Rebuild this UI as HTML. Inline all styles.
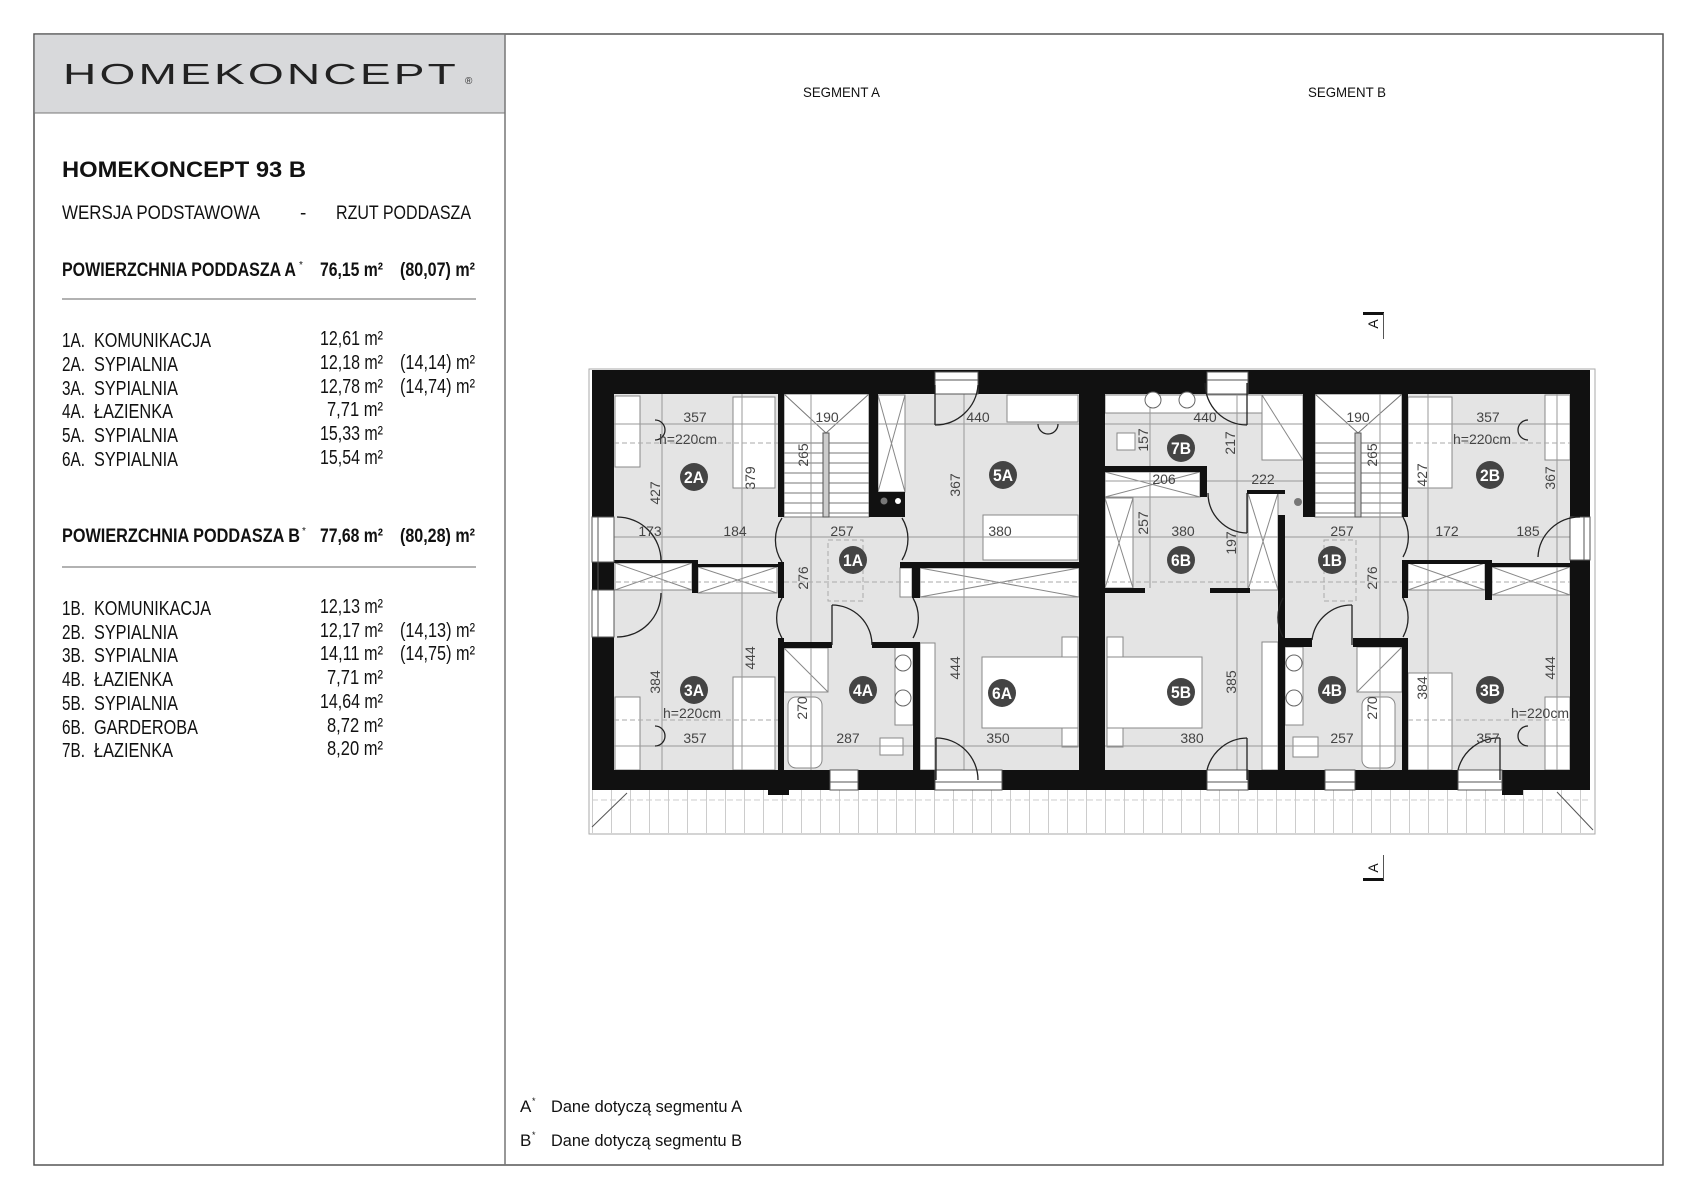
<!DOCTYPE html>
<html><head><meta charset="utf-8"><style>
html,body{margin:0;padding:0;background:#fff}
svg{display:block}
text{font-family:"Liberation Sans",Arial,sans-serif}
</style></head><body>
<svg width="1698" height="1200" viewBox="0 0 1698 1200" xmlns="http://www.w3.org/2000/svg">
<defs>
<pattern id="bal" x="592" y="0" width="19" height="50" patternUnits="userSpaceOnUse">
<line x1="0.5" y1="0" x2="0.5" y2="50" stroke="#ccc" stroke-width="1"/>
</pattern>
</defs>
<rect x="34" y="34" width="1629" height="1131" fill="#fff" stroke="#555" stroke-width="1.5"/>
<rect x="34.75" y="34.75" width="470" height="78" fill="#d8d9db"/>
<line x1="34" y1="113" x2="505" y2="113" stroke="#777" stroke-width="1"/>
<line x1="505" y1="34" x2="505" y2="1165" stroke="#777" stroke-width="1.5"/>
<text x="63" y="84" font-size="29" fill="#222" textLength="396" lengthAdjust="spacingAndGlyphs" letter-spacing="2">HOMEKONCEPT</text>
<text x="465" y="84" font-size="10" fill="#333">®</text>
<text x="62" y="177" font-size="22" font-weight="bold" fill="#111" textLength="244" lengthAdjust="spacingAndGlyphs">HOMEKONCEPT 93 B</text>
<text x="62" y="219" font-size="19" fill="#111" textLength="198" lengthAdjust="spacingAndGlyphs">WERSJA  PODSTAWOWA</text>
<text x="300" y="219" font-size="19" fill="#111">-</text>
<text x="336" y="219" font-size="19" fill="#111" textLength="135" lengthAdjust="spacingAndGlyphs">RZUT PODDASZA</text>
<text x="62" y="276" font-size="19" font-weight="bold" fill="#111" textLength="234" lengthAdjust="spacingAndGlyphs">POWIERZCHNIA PODDASZA  A</text>
<text x="299" y="268" font-size="10" fill="#111">*</text>
<text x="320" y="276" font-size="19" font-weight="bold" fill="#111" textLength="63" lengthAdjust="spacingAndGlyphs">76,15 m²</text>
<text x="400" y="276" font-size="19" font-weight="bold" fill="#111" textLength="75" lengthAdjust="spacingAndGlyphs">(80,07) m²</text>
<line x1="62" y1="299" x2="476" y2="299" stroke="#999" stroke-width="1.5"/>
<g font-size="20" fill="#111">
<text x="62" y="347" textLength="23" lengthAdjust="spacingAndGlyphs">1A.</text><text x="94" y="347" textLength="117" lengthAdjust="spacingAndGlyphs">KOMUNIKACJA</text><text x="320" y="345" textLength="63" lengthAdjust="spacingAndGlyphs">12,61 m²</text>
<text x="62" y="371" textLength="23" lengthAdjust="spacingAndGlyphs">2A.</text><text x="94" y="371" textLength="84" lengthAdjust="spacingAndGlyphs">SYPIALNIA</text><text x="320" y="369" textLength="63" lengthAdjust="spacingAndGlyphs">12,18 m²</text><text x="400" y="369" textLength="75" lengthAdjust="spacingAndGlyphs">(14,14) m²</text>
<text x="62" y="395" textLength="23" lengthAdjust="spacingAndGlyphs">3A.</text><text x="94" y="395" textLength="84" lengthAdjust="spacingAndGlyphs">SYPIALNIA</text><text x="320" y="393" textLength="63" lengthAdjust="spacingAndGlyphs">12,78 m²</text><text x="400" y="393" textLength="75" lengthAdjust="spacingAndGlyphs">(14,74) m²</text>
<text x="62" y="418" textLength="23" lengthAdjust="spacingAndGlyphs">4A.</text><text x="94" y="418" textLength="79" lengthAdjust="spacingAndGlyphs">ŁAZIENKA</text><text x="327" y="416" textLength="56" lengthAdjust="spacingAndGlyphs">7,71 m²</text>
<text x="62" y="442" textLength="23" lengthAdjust="spacingAndGlyphs">5A.</text><text x="94" y="442" textLength="84" lengthAdjust="spacingAndGlyphs">SYPIALNIA</text><text x="320" y="440" textLength="63" lengthAdjust="spacingAndGlyphs">15,33 m²</text>
<text x="62" y="466" textLength="23" lengthAdjust="spacingAndGlyphs">6A.</text><text x="94" y="466" textLength="84" lengthAdjust="spacingAndGlyphs">SYPIALNIA</text><text x="320" y="464" textLength="63" lengthAdjust="spacingAndGlyphs">15,54 m²</text>
</g>
<text x="62" y="542" font-size="19" font-weight="bold" fill="#111" textLength="238" lengthAdjust="spacingAndGlyphs">POWIERZCHNIA PODDASZA B</text>
<text x="302" y="534" font-size="10" fill="#111">*</text>
<text x="320" y="542" font-size="19" font-weight="bold" fill="#111" textLength="63" lengthAdjust="spacingAndGlyphs">77,68 m²</text>
<text x="400" y="542" font-size="19" font-weight="bold" fill="#111" textLength="75" lengthAdjust="spacingAndGlyphs">(80,28) m²</text>
<line x1="62" y1="567" x2="476" y2="567" stroke="#999" stroke-width="1.5"/>
<g font-size="20" fill="#111">
<text x="62" y="615" textLength="23" lengthAdjust="spacingAndGlyphs">1B.</text><text x="94" y="615" textLength="117" lengthAdjust="spacingAndGlyphs">KOMUNIKACJA</text><text x="320" y="613" textLength="63" lengthAdjust="spacingAndGlyphs">12,13 m²</text>
<text x="62" y="639" textLength="23" lengthAdjust="spacingAndGlyphs">2B.</text><text x="94" y="639" textLength="84" lengthAdjust="spacingAndGlyphs">SYPIALNIA</text><text x="320" y="637" textLength="63" lengthAdjust="spacingAndGlyphs">12,17 m²</text><text x="400" y="637" textLength="75" lengthAdjust="spacingAndGlyphs">(14,13) m²</text>
<text x="62" y="662" textLength="23" lengthAdjust="spacingAndGlyphs">3B.</text><text x="94" y="662" textLength="84" lengthAdjust="spacingAndGlyphs">SYPIALNIA</text><text x="320" y="660" textLength="63" lengthAdjust="spacingAndGlyphs">14,11 m²</text><text x="400" y="660" textLength="75" lengthAdjust="spacingAndGlyphs">(14,75) m²</text>
<text x="62" y="686" textLength="23" lengthAdjust="spacingAndGlyphs">4B.</text><text x="94" y="686" textLength="79" lengthAdjust="spacingAndGlyphs">ŁAZIENKA</text><text x="327" y="684" textLength="56" lengthAdjust="spacingAndGlyphs">7,71 m²</text>
<text x="62" y="710" textLength="23" lengthAdjust="spacingAndGlyphs">5B.</text><text x="94" y="710" textLength="84" lengthAdjust="spacingAndGlyphs">SYPIALNIA</text><text x="320" y="708" textLength="63" lengthAdjust="spacingAndGlyphs">14,64 m²</text>
<text x="62" y="734" textLength="23" lengthAdjust="spacingAndGlyphs">6B.</text><text x="94" y="734" textLength="104" lengthAdjust="spacingAndGlyphs">GARDEROBA</text><text x="327" y="732" textLength="56" lengthAdjust="spacingAndGlyphs">8,72 m²</text>
<text x="62" y="757" textLength="23" lengthAdjust="spacingAndGlyphs">7B.</text><text x="94" y="757" textLength="79" lengthAdjust="spacingAndGlyphs">ŁAZIENKA</text><text x="327" y="755" textLength="56" lengthAdjust="spacingAndGlyphs">8,20 m²</text>
</g>
<text x="803" y="97" font-size="14" fill="#111" textLength="77" lengthAdjust="spacingAndGlyphs">SEGMENT A</text>
<text x="1308" y="97" font-size="14" fill="#111" textLength="78" lengthAdjust="spacingAndGlyphs">SEGMENT B</text>
<rect x="1363" y="312" width="21" height="3" fill="#111"/>
<line x1="1383.5" y1="313" x2="1383.5" y2="339" stroke="#555"/>
<text x="0" y="0" font-size="14" fill="#111" transform="translate(1378,324) rotate(-90)" text-anchor="middle">A</text>
<rect x="1363" y="878" width="21" height="3" fill="#111"/>
<line x1="1383.5" y1="855" x2="1383.5" y2="880" stroke="#555"/>
<text x="0" y="0" font-size="14" fill="#111" transform="translate(1378,868) rotate(-90)" text-anchor="middle">A</text>
<text x="520" y="1112" font-size="17" fill="#111">A</text><text x="532" y="1104" font-size="9" fill="#111">*</text>
<text x="551" y="1112" font-size="17" fill="#111" textLength="191" lengthAdjust="spacingAndGlyphs">Dane dotyczą segmentu A</text>
<text x="520" y="1146" font-size="17" fill="#111">B</text><text x="532" y="1138" font-size="9" fill="#111">*</text>
<text x="551" y="1146" font-size="17" fill="#111" textLength="191" lengthAdjust="spacingAndGlyphs">Dane dotyczą segmentu B</text>

<rect x="589" y="369" width="1006" height="465" fill="#fff" stroke="#aaa" stroke-width="1"/>
<rect x="592" y="790" width="998" height="43" fill="url(#bal)"/>
<line x1="592" y1="800" x2="1590" y2="800" stroke="#ccc" stroke-dasharray="6,3"/>
<line x1="592" y1="827" x2="627" y2="793" stroke="#555"/>
<line x1="1557" y1="792" x2="1593" y2="830" stroke="#555"/>
<rect x="614" y="394" width="465" height="376" fill="#e4e4e4"/>
<rect x="1105" y="394" width="465" height="376" fill="#e4e4e4"/>
<g fill="#fff" stroke="#888" stroke-width="1">
<rect x="615" y="396" width="25" height="71"/>
<rect x="733" y="397" width="42" height="91"/>
<rect x="615" y="697" width="25" height="73"/>
<rect x="733" y="677" width="42" height="93"/>
<rect x="1007" y="395" width="71" height="27"/>
<rect x="983" y="515" width="95" height="45"/>
<rect x="1062" y="637" width="16" height="20"/><rect x="1062" y="728" width="16" height="19"/>
<rect x="982" y="657" width="96" height="71"/>
<rect x="920" y="643" width="15" height="127"/>
<rect x="784" y="648" width="44" height="44"/>
<rect x="788" y="697" width="34" height="71" rx="8"/>
<rect x="895" y="647" width="18" height="78"/>
<rect x="880" y="738" width="23" height="17"/>
<rect x="1105" y="395" width="198" height="18"/>
<rect x="1262" y="395" width="41" height="65"/>
<rect x="1117" y="433" width="18" height="17"/>
<rect x="1105" y="472" width="95" height="25"/>
<rect x="1105" y="498" width="28" height="90"/>
<rect x="1107" y="657" width="95" height="71"/>
<rect x="1107" y="637" width="16" height="20"/><rect x="1107" y="728" width="16" height="19"/>
<rect x="1262" y="642" width="16" height="128"/>
<rect x="1285" y="647" width="18" height="78"/>
<rect x="1357" y="647" width="45" height="45"/>
<rect x="1362" y="697" width="33" height="71" rx="8"/>
<rect x="1293" y="737" width="25" height="20"/>
<rect x="1408" y="397" width="44" height="91"/>
<rect x="1408" y="673" width="44" height="97"/>
<rect x="1545" y="395" width="25" height="65"/>
<rect x="1545" y="697" width="25" height="73"/>
<rect x="878" y="395" width="27" height="97"/>
<rect x="615" y="563" width="77" height="27"/>
<rect x="698" y="567" width="79" height="26"/>
<rect x="920" y="568" width="159" height="29"/>
<rect x="900" y="568" width="12" height="29"/>
<rect x="1248" y="493" width="30" height="97"/>
<rect x="1408" y="563" width="77" height="27"/>
<rect x="1492" y="567" width="78" height="28"/>
</g>
<g stroke="#888" stroke-width="1">
<line x1="878" y1="395" x2="905" y2="492"/><line x1="905" y1="395" x2="878" y2="492"/>
<line x1="615" y1="563" x2="692" y2="590"/><line x1="692" y1="563" x2="615" y2="590"/>
<line x1="698" y1="567" x2="777" y2="593"/><line x1="777" y1="567" x2="698" y2="593"/>
<line x1="920" y1="568" x2="1079" y2="597"/><line x1="1079" y1="568" x2="920" y2="597"/>
<line x1="1248" y1="493" x2="1278" y2="590"/><line x1="1278" y1="493" x2="1248" y2="590"/>
<line x1="1105" y1="472" x2="1200" y2="497"/><line x1="1200" y1="472" x2="1105" y2="497"/>
<line x1="1105" y1="498" x2="1133" y2="588"/><line x1="1133" y1="498" x2="1105" y2="588"/>
<line x1="1408" y1="563" x2="1485" y2="590"/><line x1="1485" y1="563" x2="1408" y2="590"/>
<line x1="1492" y1="567" x2="1570" y2="595"/><line x1="1570" y1="567" x2="1492" y2="595"/>
<line x1="784" y1="648" x2="828" y2="692"/><line x1="1357" y1="692" x2="1402" y2="647"/>
<line x1="1262" y1="395" x2="1303" y2="460"/>
</g>
<g fill="#fff" stroke="#777" stroke-width="1">
<rect x="784" y="394" width="85" height="123"/>
<rect x="1315" y="394" width="87" height="123"/>
</g>
<g stroke="#777" stroke-width="1">
<line x1="784" y1="394" x2="826" y2="433"/><line x1="869" y1="394" x2="826" y2="433"/>
<line x1="1315" y1="394" x2="1358" y2="433"/><line x1="1402" y1="394" x2="1358" y2="433"/>
<path d="M784 443H869M784 453H869M784 463H869M784 473H869M784 483H869M784 493H869M784 503H869M784 513H869"/>
<path d="M1315 443H1402M1315 453H1402M1315 463H1402M1315 473H1402M1315 483H1402M1315 493H1402M1315 503H1402M1315 513H1402"/>
</g>
<rect x="823" y="433" width="6" height="84" fill="#ccc" stroke="#555"/>
<rect x="1355" y="433" width="6" height="84" fill="#ccc" stroke="#555"/>
<g stroke="#999" stroke-width="1">
<line x1="614" y1="424" x2="1079" y2="424"/><line x1="1105" y1="424" x2="1570" y2="424"/>
<line x1="614" y1="537" x2="1079" y2="537"/><line x1="1105" y1="537" x2="1570" y2="537"/>
<line x1="614" y1="746" x2="1079" y2="746"/><line x1="1105" y1="746" x2="1570" y2="746"/>
<line x1="1105" y1="481" x2="1303" y2="481"/>
<line x1="662" y1="394" x2="662" y2="770"/><line x1="742" y1="394" x2="742" y2="770"/>
<line x1="811" y1="394" x2="811" y2="770"/><line x1="964" y1="394" x2="964" y2="770"/>
<line x1="1150" y1="394" x2="1150" y2="588"/><line x1="1237" y1="394" x2="1237" y2="770"/>
<line x1="1380" y1="394" x2="1380" y2="770"/><line x1="1428" y1="394" x2="1428" y2="770"/>
<line x1="1557" y1="394" x2="1557" y2="770"/>
</g>
<g stroke="#aaa" stroke-width="1" stroke-dasharray="5,3">
<line x1="614" y1="443" x2="780" y2="443"/><line x1="1408" y1="443" x2="1570" y2="443"/>
<line x1="614" y1="720" x2="780" y2="720"/><line x1="1408" y1="720" x2="1570" y2="720"/>
<line x1="592" y1="582" x2="1590" y2="582"/>
<rect x="828" y="540" width="35" height="61" fill="none"/>
<rect x="1324" y="540" width="32" height="61" fill="none"/>
</g>
<g fill="#111">
<rect x="592" y="370" width="998" height="24"/>
<rect x="592" y="770" width="998" height="20"/>
<rect x="768" y="790" width="21" height="5"/>
<rect x="1502" y="790" width="21" height="5"/>
<rect x="592" y="370" width="22" height="420"/>
<rect x="1570" y="370" width="20" height="420"/>
<rect x="1079" y="370" width="26" height="420"/>
<rect x="778" y="394" width="6" height="123"/>
<rect x="778" y="638" width="6" height="132"/>
<rect x="614" y="560" width="78" height="3"/>
<rect x="692" y="560" width="6" height="33"/>
<rect x="698" y="564" width="86" height="3"/>
<rect x="778" y="562" width="6" height="36"/>
<rect x="869" y="394" width="9" height="123"/>
<rect x="869" y="492" width="36" height="25"/>
<rect x="900" y="562" width="179" height="6"/>
<rect x="912" y="562" width="8" height="36"/>
<rect x="784" y="642" width="48" height="6"/>
<rect x="872" y="642" width="48" height="6"/>
<rect x="913" y="642" width="7" height="128"/>
<rect x="1105" y="466" width="100" height="6"/>
<rect x="1200" y="466" width="7" height="31"/>
<rect x="1303" y="394" width="12" height="123"/>
<rect x="1402" y="394" width="6" height="123"/>
<rect x="1247" y="490" width="38" height="4"/>
<rect x="1278" y="515" width="7" height="125"/>
<rect x="1278" y="637" width="7" height="133"/>
<rect x="1105" y="588" width="40" height="5"/>
<rect x="1210" y="588" width="40" height="5"/>
<rect x="1247" y="588" width="3" height="5"/>
<rect x="1285" y="638" width="27" height="9"/>
<rect x="1353" y="638" width="55" height="9"/>
<rect x="1402" y="638" width="6" height="132"/>
<rect x="1402" y="560" width="83" height="4"/>
<rect x="1485" y="560" width="7" height="40"/>
<rect x="1492" y="563" width="78" height="4"/>
<rect x="1402" y="560" width="6" height="38"/>
<rect x="592" y="562" width="22" height="28"/>
</g>
<g fill="#fff" stroke="#555" stroke-width="1">
<rect x="935" y="372" width="43" height="22"/>
<rect x="1207" y="372" width="41" height="22"/>
<rect x="830" y="770" width="28" height="20"/>
<rect x="935" y="770" width="67" height="20"/>
<rect x="1207" y="770" width="41" height="20"/>
<rect x="1325" y="770" width="30" height="20"/>
<rect x="1458" y="770" width="44" height="20"/>
<rect x="592" y="517" width="22" height="45"/>
<rect x="592" y="590" width="22" height="47"/>
<rect x="1570" y="517" width="20" height="43"/>
</g>
<g stroke="#555" stroke-width="1">
<line x1="935" y1="380" x2="978" y2="380"/><line x1="1207" y1="380" x2="1248" y2="380"/>
<line x1="830" y1="782" x2="858" y2="782"/><line x1="935" y1="782" x2="1002" y2="782"/>
<line x1="1207" y1="782" x2="1248" y2="782"/><line x1="1325" y1="782" x2="1355" y2="782"/><line x1="1458" y1="782" x2="1502" y2="782"/>
<line x1="598" y1="517" x2="598" y2="637"/><line x1="1584" y1="517" x2="1584" y2="560"/>
</g>
<g fill="none" stroke="#222" stroke-width="1.3">
<path d="M782 518A40 40 0 0 0 782 562"/>
<path d="M782 598A40 40 0 0 0 782 638"/>
<path d="M902 518A40 40 0 0 1 902 560"/>
<path d="M913 598A40 40 0 0 1 913 638"/>
<path d="M832 605A40 40 0 0 1 872 645"/><line x1="832" y1="605" x2="832" y2="645"/>
<path d="M978 385A43 43 0 0 1 935 425"/><line x1="935" y1="385" x2="935" y2="425"/>
<path d="M936 738A42 42 0 0 1 978 780"/><line x1="936" y1="738" x2="936" y2="780"/>
<path d="M617 517A44 44 0 0 1 661 561"/>
<path d="M617 637A44 44 0 0 0 661 593"/>
<path d="M1205 383A42 42 0 0 0 1247 425"/><line x1="1247" y1="383" x2="1247" y2="425"/>
<path d="M1208 493A40 40 0 0 0 1247 533"/><line x1="1247" y1="493" x2="1247" y2="533"/>
<path d="M1283 598A40 40 0 0 0 1283 637"/>
<path d="M1312 640A40 40 0 0 1 1352 605"/><line x1="1352" y1="605" x2="1352" y2="645"/>
<path d="M1403 517A40 40 0 0 1 1403 557"/>
<path d="M1403 598A40 40 0 0 1 1403 637"/>
<path d="M1538 557A42 42 0 0 1 1580 517"/>
<path d="M1207 770A42 42 0 0 1 1247 738"/><line x1="1247" y1="738" x2="1247" y2="780"/>
<path d="M1458 770A42 42 0 0 1 1500 738"/><line x1="1500" y1="738" x2="1500" y2="780"/>
<path d="M655 420A10 10 0 0 1 655 440"/><path d="M655 726A10 10 0 0 1 655 746"/>
<path d="M1038 424A10 10 0 0 0 1058 424"/>
<path d="M1528 420A10 10 0 0 0 1528 440"/><path d="M1528 726A10 10 0 0 0 1528 746"/>
</g>
<g fill="#fff" stroke="#666">
<circle cx="903" cy="663" r="8"/><circle cx="903" cy="698" r="8"/>
<circle cx="1294" cy="663" r="8"/><circle cx="1294" cy="698" r="8"/>
<circle cx="1153" cy="400" r="8"/><circle cx="1187" cy="400" r="8"/>
</g>
<circle cx="884" cy="501" r="3.5" fill="#777"/><circle cx="898" cy="501" r="3" fill="#fff"/>
<circle cx="1298" cy="502" r="4" fill="#777"/>
<g font-size="14" fill="#444" text-anchor="middle">
<text x="695" y="422">357</text><text x="688" y="444">h=220cm</text><text x="827" y="422">190</text><text x="978" y="422">440</text>
<text x="650" y="536">173</text><text x="735" y="536">184</text><text x="842" y="536">257</text><text x="1000" y="536">380</text>
<text x="692" y="718">h=220cm</text><text x="695" y="743">357</text><text x="848" y="743">287</text><text x="998" y="743">350</text>
<text x="1205" y="422">440</text><text x="1358" y="422">190</text><text x="1488" y="422">357</text><text x="1482" y="444">h=220cm</text>
<text x="1164" y="484">206</text><text x="1263" y="484">222</text><text x="1183" y="536">380</text><text x="1342" y="536">257</text>
<text x="1447" y="536">172</text><text x="1528" y="536">185</text>
<text x="1540" y="718">h=220cm</text><text x="1192" y="743">380</text><text x="1342" y="743">257</text><text x="1488" y="743">357</text>
</g>
<g font-size="14" fill="#444" text-anchor="middle">
<text transform="translate(808,455) rotate(-90)">265</text>
<text transform="translate(755,478) rotate(-90)">379</text>
<text transform="translate(660,493) rotate(-90)">427</text>
<text transform="translate(960,485) rotate(-90)">367</text>
<text transform="translate(808,578) rotate(-90)">276</text>
<text transform="translate(755,658) rotate(-90)">444</text>
<text transform="translate(660,682) rotate(-90)">384</text>
<text transform="translate(807,708) rotate(-90)">270</text>
<text transform="translate(960,668) rotate(-90)">444</text>
<text transform="translate(1148,440) rotate(-90)">157</text>
<text transform="translate(1235,443) rotate(-90)">217</text>
<text transform="translate(1377,455) rotate(-90)">265</text>
<text transform="translate(1427,475) rotate(-90)">427</text>
<text transform="translate(1555,478) rotate(-90)">367</text>
<text transform="translate(1148,523) rotate(-90)">257</text>
<text transform="translate(1236,543) rotate(-90)">197</text>
<text transform="translate(1377,578) rotate(-90)">276</text>
<text transform="translate(1236,682) rotate(-90)">385</text>
<text transform="translate(1555,668) rotate(-90)">444</text>
<text transform="translate(1427,688) rotate(-90)">384</text>
<text transform="translate(1377,708) rotate(-90)">270</text>
</g>
<g fill="#444">
<circle cx="694" cy="477" r="14"/><circle cx="1003" cy="475" r="14"/><circle cx="853" cy="560" r="14"/>
<circle cx="694" cy="690" r="14"/><circle cx="863" cy="690" r="14"/><circle cx="1002" cy="693" r="14"/>
<circle cx="1181" cy="448" r="14"/><circle cx="1490" cy="475" r="14"/><circle cx="1181" cy="560" r="14"/>
<circle cx="1332" cy="560" r="14"/><circle cx="1181" cy="692" r="14"/><circle cx="1332" cy="690" r="14"/><circle cx="1490" cy="690" r="14"/>
</g>
<g font-size="17" font-weight="bold" fill="#fff" text-anchor="middle">
<text x="694" y="483" textLength="20" lengthAdjust="spacingAndGlyphs">2A</text><text x="1003" y="481" textLength="20" lengthAdjust="spacingAndGlyphs">5A</text><text x="853" y="566" textLength="20" lengthAdjust="spacingAndGlyphs">1A</text>
<text x="694" y="696" textLength="20" lengthAdjust="spacingAndGlyphs">3A</text><text x="863" y="696" textLength="20" lengthAdjust="spacingAndGlyphs">4A</text><text x="1002" y="699" textLength="20" lengthAdjust="spacingAndGlyphs">6A</text>
<text x="1181" y="454" textLength="20" lengthAdjust="spacingAndGlyphs">7B</text><text x="1490" y="481" textLength="20" lengthAdjust="spacingAndGlyphs">2B</text><text x="1181" y="566" textLength="20" lengthAdjust="spacingAndGlyphs">6B</text>
<text x="1332" y="566" textLength="20" lengthAdjust="spacingAndGlyphs">1B</text><text x="1181" y="698" textLength="20" lengthAdjust="spacingAndGlyphs">5B</text><text x="1332" y="696" textLength="20" lengthAdjust="spacingAndGlyphs">4B</text><text x="1490" y="696" textLength="20" lengthAdjust="spacingAndGlyphs">3B</text>
</g>
</svg>
</body></html>
